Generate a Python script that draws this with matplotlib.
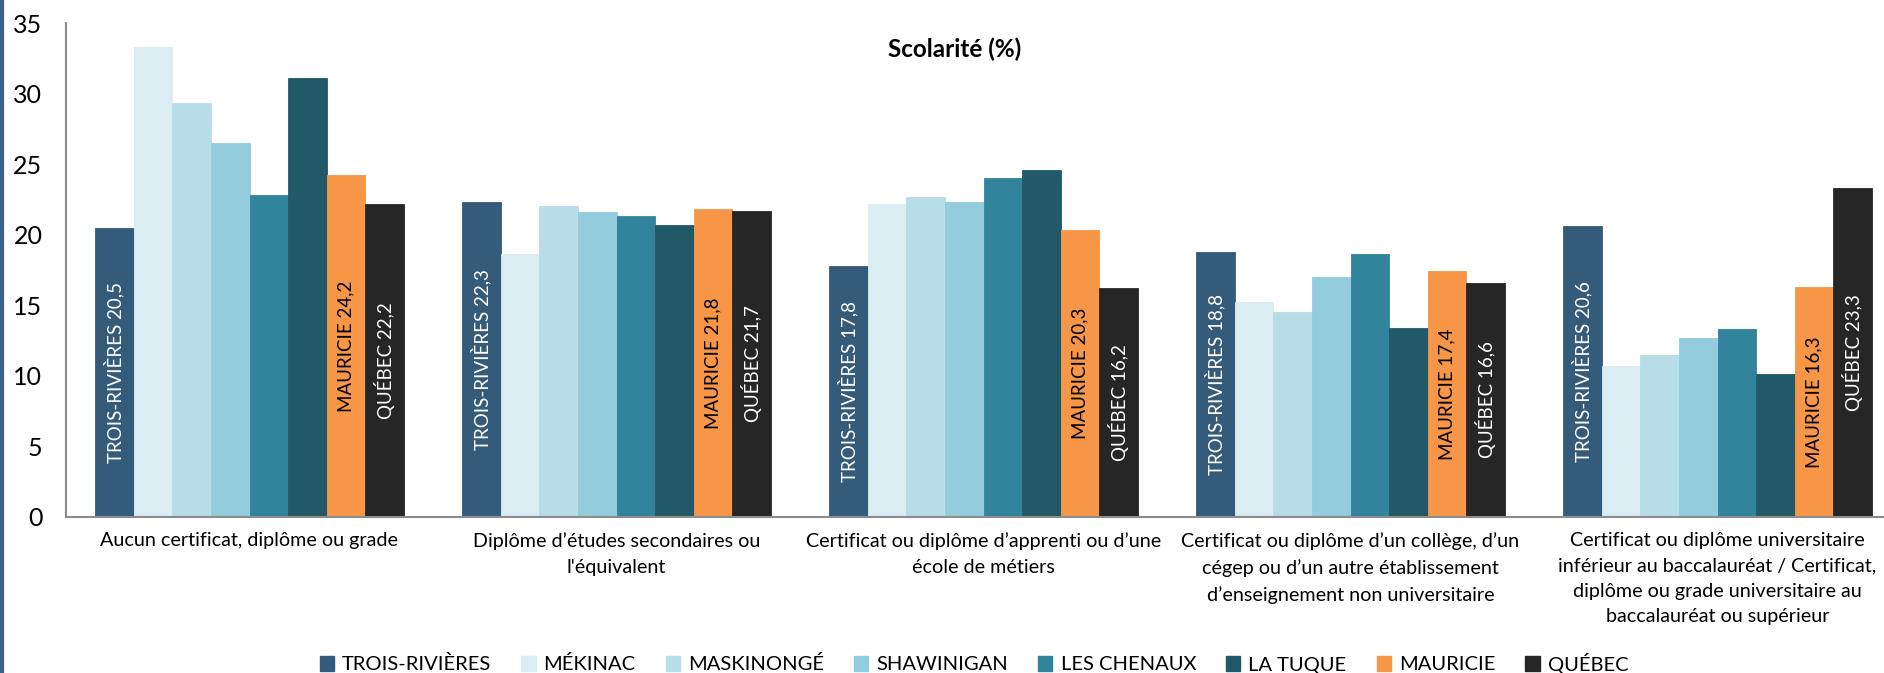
import matplotlib
matplotlib.use("Agg")
import matplotlib.pyplot as plt
from matplotlib.lines import Line2D
from matplotlib.patches import Patch
import numpy as np

plt.rcParams['font.family'] = ['Lato', 'DejaVu Sans']

categories = [
    "Aucun certificat, diplôme ou grade",
    "Diplôme d’études secondaires ou\nl'équivalent",
    "Certificat ou diplôme d’apprenti ou d’une\nécole de métiers",
    "Certificat ou diplôme d’un collège, d’un\ncégep ou d’un autre établissement\nd’enseignement non universitaire",
    "Certificat ou diplôme universitaire\ninférieur au baccalauréat / Certificat,\ndiplôme ou grade universitaire au\nbaccalauréat ou supérieur",
]
series_names = ["TROIS-RIVIÈRES", "MÉKINAC", "MASKINONGÉ", "SHAWINIGAN",
                "LES CHENAUX", "LA TUQUE", "MAURICIE", "QUÉBEC"]
trois_rivieres = [20.5, 22.3, 17.8, 18.8, 20.6]
mekinac        = [33.3, 18.6, 22.2, 15.2, 10.7]
maskinonge     = [29.3, 22.0, 22.7, 14.5, 11.5]
shawinigan     = [26.5, 21.6, 22.3, 17.0, 12.7]
les_chenaux    = [22.8, 21.3, 24.0, 18.6, 13.3]
la_tuque       = [31.1, 20.7, 24.6, 13.4, 10.1]
mauricie       = [24.2, 21.8, 20.3, 17.4, 16.3]
quebec         = [22.2, 21.7, 16.2, 16.6, 23.3]
yticks = [0, 5, 10, 15, 20, 25, 30, 35]

series = [trois_rivieres, mekinac, maskinonge, shawinigan,
          les_chenaux, la_tuque, mauricie, quebec]
colors = ["#355b7b", "#daedf3", "#b7dde8", "#93cddd",
          "#31849b", "#215968", "#f79646", "#262626"]
label_colors = {0: "white", 6: "black", 7: "white"}

W, H = 1884, 673
fig = plt.figure(figsize=(W / 100, H / 100), dpi=100)
ax = fig.add_axes([66 / W, (H - 517) / H, 1835 / W, (517 - 23) / H])

n = len(series)
bw = 0.842 / n
x = np.arange(len(categories))
for i, (vals, c) in enumerate(zip(series, colors)):
    pos = x - 0.421 + bw * (i + 0.5)
    ax.bar(pos, vals, width=bw, color=c, label=series_names[i],
           edgecolor=c, linewidth=0.6)
    if i in label_colors:
        for p, v in zip(pos, vals):
            ax.text(p, v / 2, f"{series_names[i]} {v:.1f}".replace(".", ","),
                    rotation=90, ha="center", va="center",
                    color=label_colors[i], fontsize=13.5)

ax.set_xlim(-0.5, len(categories) - 0.5)
ax.set_ylim(0, 35)
ax.set_yticks(yticks)
ax.set_yticklabels([str(t) for t in yticks], fontsize=18)
ax.set_xticks(x)
ax.set_xticklabels(categories, fontsize=14.2, linespacing=1.6)
ax.tick_params(axis="both", length=0)
ax.tick_params(axis="x", pad=11)
ax.tick_params(axis="y", pad=17)
for s in ["top", "right"]:
    ax.spines[s].set_visible(False)
for s in ["left", "bottom"]:
    ax.spines[s].set_color("#8c8c8c")
    ax.spines[s].set_linewidth(1.5)

fig.text(955 / W, 1 - 49 / H, "Scolarité (%)", fontsize=17.5,
         fontweight="bold", ha="center", va="center")

handles = [Patch(facecolor=c, edgecolor=c) for c in colors]
fig.legend(handles, series_names, loc="center", ncol=8,
           bbox_to_anchor=(0.517, 1 - 663 / H), frameon=False, fontsize=14.5,
           handlelength=0.7, handleheight=0.7, handletextpad=0.4,
           columnspacing=1.5)

fig.add_artist(Line2D([1.5 / W, 1.5 / W], [0, 1], color="#3a6186",
                      linewidth=3, transform=fig.transFigure))

fig.savefig("out.png", dpi=100)
